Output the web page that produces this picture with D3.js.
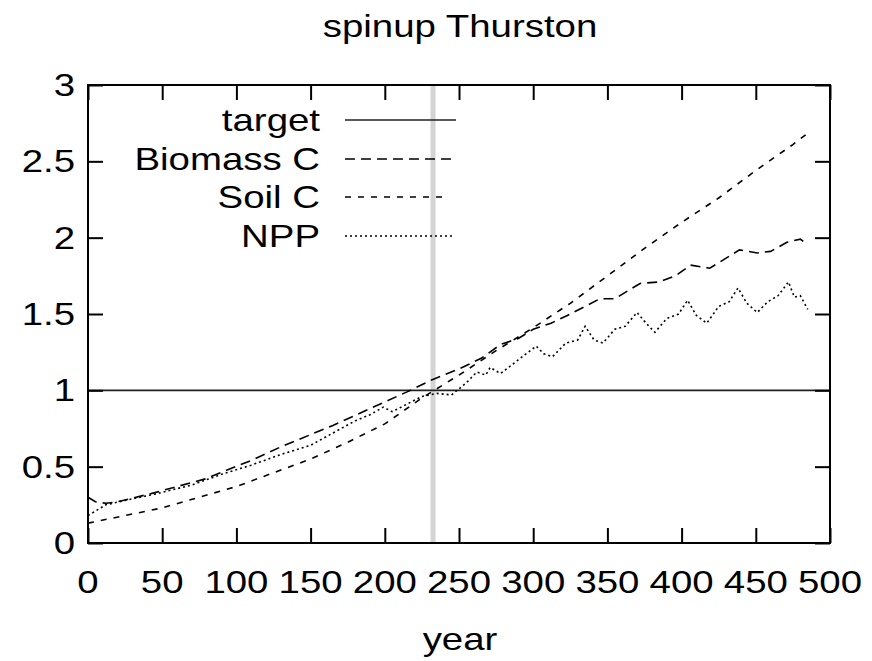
<!DOCTYPE html>
<html>
<head>
<meta charset="utf-8">
<script src="https://cdn.jsdelivr.net/npm/d3@7"></script>
<style>
  html, body { margin: 0; padding: 0; background: #fff; }
  svg { display: block; }
  text { font-family: "Liberation Sans", Arial, Helvetica, sans-serif; fill: #000; }
</style>
</head>
<body>
<svg id="chart" width="872" height="661"></svg>
<script>
// ---------- data ----------
const chartTitle = "spinup Thurston";
const xLabel = "year";
const xTicks = [0, 50, 100, 150, 200, 250, 300, 350, 400, 450, 500];
const yTicks = [0, 0.5, 1, 1.5, 2, 2.5, 3];
const yTickLabels = ["0", "0.5", "1", "1.5", "2", "2.5", "3"];
const seriesNames = ["target", "Biomass C", "Soil C", "NPP"];
const targetValue = 1;
const markerYear = 232.5;

const biomassYears = [0, 5, 12, 20, 45, 79, 102, 110, 130, 165, 190, 215, 232, 250, 265, 278, 290, 300, 312, 323, 335, 345, 355, 372, 385, 396, 406, 419, 439, 451, 460, 471, 480, 484];
const biomassC     = [0.30, 0.27, 0.26, 0.27, 0.33, 0.42, 0.51, 0.54, 0.63, 0.77, 0.88, 0.99, 1.07, 1.14, 1.21, 1.30, 1.34, 1.40, 1.44, 1.49, 1.55, 1.60, 1.60, 1.70, 1.71, 1.75, 1.82, 1.80, 1.92, 1.90, 1.91, 1.97, 1.99, 1.96];

const soilYears = [0, 25, 50, 75, 100, 125, 150, 175, 200, 225, 250, 275, 300, 325, 350, 375, 400, 425, 450, 475, 487];
const soilC     = [0.13, 0.18, 0.23, 0.30, 0.37, 0.46, 0.55, 0.66, 0.78, 0.95, 1.10, 1.26, 1.41, 1.57, 1.75, 1.93, 2.10, 2.26, 2.44, 2.61, 2.70];

const nppYears = [0, 12, 30, 45, 70, 90, 110, 130, 150, 165, 180, 190, 199, 205, 215, 225, 235, 245, 255, 262, 268, 271, 278, 290, 302, 307, 313, 322, 330, 335, 341, 347, 355, 362, 370, 376, 382, 390, 398, 404, 410, 417, 425, 432, 438, 444, 451, 458, 465, 472, 476, 480, 485];
const npp      = [0.18, 0.25, 0.29, 0.32, 0.38, 0.45, 0.51, 0.58, 0.64, 0.72, 0.80, 0.84, 0.89, 0.86, 0.91, 0.96, 0.98, 0.97, 1.05, 1.12, 1.10, 1.15, 1.11, 1.20, 1.29, 1.24, 1.22, 1.31, 1.33, 1.42, 1.33, 1.31, 1.40, 1.42, 1.51, 1.44, 1.38, 1.47, 1.50, 1.59, 1.49, 1.44, 1.55, 1.58, 1.67, 1.57, 1.51, 1.58, 1.62, 1.71, 1.61, 1.62, 1.53];

// ---------- layout ----------
const X0 = 88, X1 = 830, Y0 = 85, Y1 = 543;
const FONT = 32, HS = 1.2;   // font size and horizontal stretch
const svg = d3.select("#chart");

const x = d3.scaleLinear().domain([0, 500]).range([X0, X1]);
const y = d3.scaleLinear().domain([0, 3]).range([Y1, Y0]);

function stretchedText(g, tx, ty, str, anchor) {
  return g.append("text")
    .attr("transform", `translate(${tx},${ty}) scale(${HS},1)`)
    .attr("text-anchor", anchor)
    .style("font-size", FONT + "px")
    .text(str);
}

// title
stretchedText(svg, 460, 37, chartTitle, "middle");

// gray marker line
svg.append("line")
  .attr("x1", x(markerYear)).attr("x2", x(markerYear))
  .attr("y1", Y0).attr("y2", Y1)
  .attr("stroke", "#d4d4d4").attr("stroke-width", 5);

// target line
svg.append("line")
  .attr("x1", X0).attr("x2", X1)
  .attr("y1", y(targetValue)).attr("y2", y(targetValue))
  .attr("stroke", "#222").attr("stroke-width", 1.6);

const line = d3.line().x(d => x(d[0])).y(d => y(d[1]));
const styles = {
  "Biomass C": "10,6",
  "Soil C": "6,7",
  "NPP": "2,3"
};
const series = [
  { name: "Biomass C", pts: d3.zip(biomassYears, biomassC) },
  { name: "Soil C", pts: d3.zip(soilYears, soilC) },
  { name: "NPP", pts: d3.zip(nppYears, npp) }
];
series.forEach(s => {
  svg.append("path")
    .datum(s.pts)
    .attr("d", line)
    .attr("fill", "none")
    .attr("stroke", "#000")
    .attr("stroke-width", 1.6)
    .attr("stroke-dasharray", styles[s.name]);
});

// axes ticks (inward, mirrored)
function styleAxis(g) {
  g.select(".domain").remove();
  g.selectAll(".tick line").attr("stroke", "#000").attr("stroke-width", 2);
  g.selectAll(".tick text").remove();
}
svg.append("g").attr("transform", `translate(0,${Y1})`)
  .call(d3.axisBottom(x).tickValues(xTicks).tickSizeInner(-15).tickSizeOuter(0)).call(styleAxis);
svg.append("g").attr("transform", `translate(0,${Y0})`)
  .call(d3.axisTop(x).tickValues(xTicks).tickSizeInner(-15).tickSizeOuter(0)).call(styleAxis);
svg.append("g").attr("transform", `translate(${X0},0)`)
  .call(d3.axisLeft(y).tickValues(yTicks).tickSizeInner(-15).tickSizeOuter(0)).call(styleAxis);
svg.append("g").attr("transform", `translate(${X1},0)`)
  .call(d3.axisRight(y).tickValues(yTicks).tickSizeInner(-15).tickSizeOuter(0)).call(styleAxis);

// border
svg.append("rect")
  .attr("x", X0).attr("y", Y0).attr("width", X1 - X0).attr("height", Y1 - Y0)
  .attr("fill", "none").attr("stroke", "#000").attr("stroke-width", 2);

// tick labels
xTicks.forEach(t => stretchedText(svg, x(t), 593, String(t), "middle"));
yTicks.forEach((t, i) => stretchedText(svg, 75, y(t) + 11, yTickLabels[i], "end"));

// axis label
stretchedText(svg, 460, 650, xLabel, "middle");

// legend
const legendRows = [120, 159, 197, 236];
const legendEnds = [456, 456, 448, 452];
const legendDash = [null, "10,6", "6,7", "2,3"];
seriesNames.forEach((name, i) => {
  const ly = legendRows[i];
  stretchedText(svg, 320, ly + 11, name, "end");
  svg.append("line")
    .attr("x1", 345).attr("x2", legendEnds[i])
    .attr("y1", ly).attr("y2", ly)
    .attr("stroke", i === 0 ? "#222" : "#000")
    .attr("stroke-width", 1.6)
    .attr("stroke-dasharray", legendDash[i]);
});
</script>
</body>
</html>
